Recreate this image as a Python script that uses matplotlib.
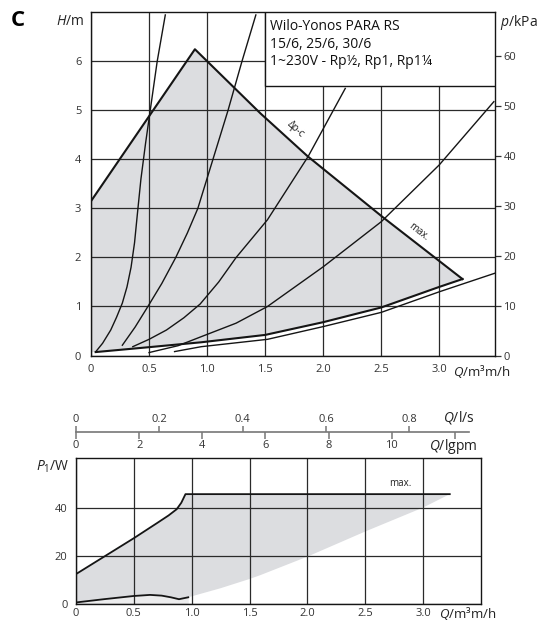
import numpy as np
import matplotlib.pyplot as plt
from matplotlib.patches import Rectangle

plt.rcParams['font.family'] = ['Open Sans', 'DejaVu Sans']
plt.rcParams['mathtext.fontset'] = 'custom'
plt.rcParams['mathtext.rm'] = 'Open Sans'
plt.rcParams['mathtext.it'] = 'Open Sans:italic'

# ---- head chart: H (m) over Q (m3/h) ----
env_q = [0.0, 0.895, 1.46, 1.864, 2.51, 3.2]          # max envelope
env_h = [3.15, 6.25, 4.94, 4.07, 2.83, 1.56]
min_q = [0.04, 0.5, 0.95, 1.5, 2.0, 2.5, 3.0, 3.2]    # min speed curve
min_h = [0.07, 0.17, 0.27, 0.42, 0.68, 0.98, 1.40, 1.56]
low_q = [0.72, 0.95, 1.52, 2.0, 2.5, 3.0, 3.48]       # curve below min
low_h = [0.08, 0.18, 0.33, 0.59, 0.88, 1.30, 1.68]

# system curves
sys_a_q = [0.042, 0.10, 0.17, 0.22, 0.27, 0.31, 0.345, 0.375, 0.40, 0.43, 0.47, 0.51, 0.57, 0.64]
sys_a_h = [0.08, 0.25, 0.52, 0.78, 1.07, 1.40, 1.80, 2.30, 2.90, 3.60, 4.33, 5.0, 6.0, 6.95]
sys_b_q = [0.27, 0.38, 0.49, 0.61, 0.73, 0.83, 0.92, 1.05, 1.18, 1.30, 1.42]
sys_b_h = [0.21, 0.58, 1.0, 1.47, 2.0, 2.5, 3.0, 4.0, 5.0, 6.0, 6.95]
sys_c_q = [0.36, 0.5, 0.65, 0.8, 0.94, 1.1, 1.25, 1.52, 1.87, 2.19]
sys_c_h = [0.18, 0.33, 0.52, 0.77, 1.05, 1.5, 2.0, 2.77, 4.06, 5.45]
sys_d_q = [0.5, 0.75, 0.945, 1.25, 1.52, 2.0, 2.5, 3.0, 3.47]
sys_d_h = [0.06, 0.2, 0.38, 0.66, 1.0, 1.81, 2.73, 3.89, 5.18]

q_ticks = [0, 0.5, 1.0, 1.5, 2.0, 2.5, 3.0]
q_labels = ['0', '0.5', '1.0', '1.5', '2.0', '2.5', '3.0']
h_ticks = [0, 1, 2, 3, 4, 5, 6]
kpa_ticks = [0, 10, 20, 30, 40, 50, 60]

# ---- power chart: P1 (W) over Q (m3/h) ----
pmax_q = [0.01, 0.25, 0.5, 0.70, 0.80, 0.87, 0.91, 0.946, 3.23]
pmax_p = [12.8, 20.0, 27.5, 33.8, 37.0, 39.6, 42.3, 45.9, 45.9]
pmin_q = [0.01, 0.24, 0.5, 0.64, 0.74, 0.82, 0.89, 0.97]
pmin_p = [0.7, 2.0, 3.35, 3.8, 3.5, 2.8, 2.0, 2.8]
pedge_q = [0.97, 1.25, 1.49, 1.59, 2.0, 2.5, 3.0, 3.23]
pedge_p = [2.8, 6.6, 10.3, 12.0, 19.8, 30.3, 40.3, 45.9]
p_ticks = [0, 20, 40]

ls_ticks = [0, 0.2, 0.4, 0.6, 0.8]
ls_labels = ['0', '0.2', '0.4', '0.6', '0.8']
gpm_ticks = [0, 2, 4, 6, 8, 10, 12]
gpm_labels = ['0', '2', '4', '6', '8', '10', '']

W, H = 539, 622
fig = plt.figure(figsize=(W / 100, H / 100), dpi=100)
line_c = '#151515'
grid_c = '#2a2a2a'
fill_c = '#dcdde0'

# top chart
ax1 = fig.add_axes([91 / W, (H - 355.5) / H, 404 / W, 343.5 / H])
ax1.set_xlim(0, 3.48)
ax1.set_ylim(0, 7.01)
poly_q = env_q + min_q[::-1] + [env_q[0]]
poly_h = env_h + min_h[::-1] + [min_h[0]]
ax1.fill(poly_q, poly_h, color=fill_c, lw=0, zorder=1)
ax1.plot(env_q, env_h, color=line_c, lw=1.5, zorder=2)
ax1.plot(min_q, min_h, color=line_c, lw=1.5, zorder=2)
ax1.plot(low_q, low_h, color=line_c, lw=1.0, zorder=2)
for qq, hh in [(sys_a_q, sys_a_h), (sys_b_q, sys_b_h),
               (sys_c_q, sys_c_h), (sys_d_q, sys_d_h)]:
    ax1.plot(qq, hh, color=line_c, lw=1.0, zorder=2)
ax1.set_xticks(q_ticks, q_labels)
ax1.set_yticks(h_ticks)
ax1.grid(True, color=grid_c, lw=0.9)
ax1.tick_params(axis='both', length=0, labelsize=8, colors='#333')
ax1.tick_params(axis='x', pad=6)
ax1.tick_params(axis='y', pad=7)
for s in ax1.spines.values():
    s.set_color(line_c)
    s.set_linewidth(1.0)

sec = ax1.secondary_yaxis('right', functions=(lambda h: h * 9.81, lambda p: p / 9.81))
sec.set_yticks(kpa_ticks)
sec.tick_params(direction='out', length=4, width=0.9, labelsize=8, colors='#333', pad=2)
sec.spines['right'].set_visible(False)

# title box
ax1.add_patch(Rectangle((1.5, 5.49), 3.48 - 1.5, 7.01 - 5.49, facecolor='white',
                        edgecolor=line_c, lw=1.0, zorder=3))
ax1.text(1.545, 6.87, 'Wilo-Yonos PARA RS\n15/6, 25/6, 30/6\n1~230V - Rp½, Rp1, Rp1¼',
         fontsize=10, va='top', ha='left', linespacing=1.25, color='#111', zorder=4)

ax1.text(1.76, 4.62, 'Δp-c', fontsize=7, rotation=-42, ha='center', va='center', color='#222')
ax1.text(2.82, 2.52, 'max.', fontsize=7, rotation=-38, ha='center', va='center', color='#222')

# bottom chart
ax2 = fig.add_axes([76 / W, (H - 604) / H, 405 / W, 146 / H])
ax2.set_xlim(0, 3.5)
ax2.set_ylim(0, 61)
ax2.fill_between(pmin_q, 0, pmin_p, color='#ececed', lw=0, zorder=1)
bq = pmax_q + pedge_q[::-1] + pmin_q[::-1]
bp = pmax_p + pedge_p[::-1] + pmin_p[::-1]
ax2.fill(bq, bp, color=fill_c, lw=0, zorder=1)
ax2.plot(pmax_q, pmax_p, color=line_c, lw=1.3, zorder=2)
ax2.plot(pmin_q, pmin_p, color=line_c, lw=1.3, zorder=2)
ax2.set_xticks(q_ticks, q_labels)
ax2.set_yticks(p_ticks)
ax2.grid(True, color=grid_c, lw=0.9)
ax2.tick_params(axis='both', length=0, labelsize=8, colors='#333')
ax2.tick_params(axis='x', pad=3)
ax2.tick_params(axis='y', pad=6)
for s in ax2.spines.values():
    s.set_color(line_c)
    s.set_linewidth(1.0)
ax2.text(2.8, 50.5, 'max.', fontsize=7, ha='center', va='center', color='#222')

# flow scales in l/s and igpm above the power chart
ax_s = fig.add_axes([76 / W, (H - 432) / H, 3.40 * 115.7 / W, 0.0001])
ax_s.set_xlim(0, 3.40)
ax_s.patch.set_visible(False)
for k in ['top', 'left', 'right']:
    ax_s.spines[k].set_visible(False)
ax_s.spines['bottom'].set_color('#777')
ax_s.spines['bottom'].set_linewidth(1.2)
ax_s.set_yticks([])
ax_s.set_xticks([g * 0.2728 for g in gpm_ticks], gpm_labels)
ax_s.tick_params(axis='x', direction='out', length=5, width=1.1, color='#777',
                 labelsize=8, labelcolor='#333', pad=1)
ax_t = ax_s.twiny()
ax_t.set_xlim(0, 3.40 / 3.6)
ax_t.patch.set_visible(False)
for s in ax_t.spines.values():
    s.set_visible(False)
ax_t.set_xticks(ls_ticks, ls_labels)
ax_t.tick_params(axis='x', direction='out', length=4, width=1.1, color='#777',
                 labelsize=8, labelcolor='#333', pad=1)

# axis titles
fig.text(18 / W, 1 - 21 / H, 'C', fontsize=16, fontweight='bold', ha='center', va='center')
fig.text(70 / W, 1 - 21.5 / H, '$H$/m', fontsize=10, ha='center', va='center', color='#222')
fig.text(519 / W, 1 - 22 / H, '$p$/kPa', fontsize=10, ha='center', va='center', color='#222')
fig.text(482 / W, 1 - 371.5 / H, '$Q$/m³m/h', fontsize=9.5, ha='center', va='center', color='#222')
fig.text(468 / W, 1 - 614 / H, '$Q$/m³m/h', fontsize=9.5, ha='center', va='center', color='#222')
fig.text(459 / W, 1 - 417 / H, '$Q$/l/s', fontsize=10, ha='center', va='center', color='#222')
fig.text(453 / W, 1 - 446 / H, '$Q$/lgpm', fontsize=10, ha='center', va='center', color='#222')
fig.text(53 / W, 1 - 467 / H, '$P_1$/W', fontsize=10, ha='center', va='center', color='#222')

plt.savefig('out.png', dpi=100)
